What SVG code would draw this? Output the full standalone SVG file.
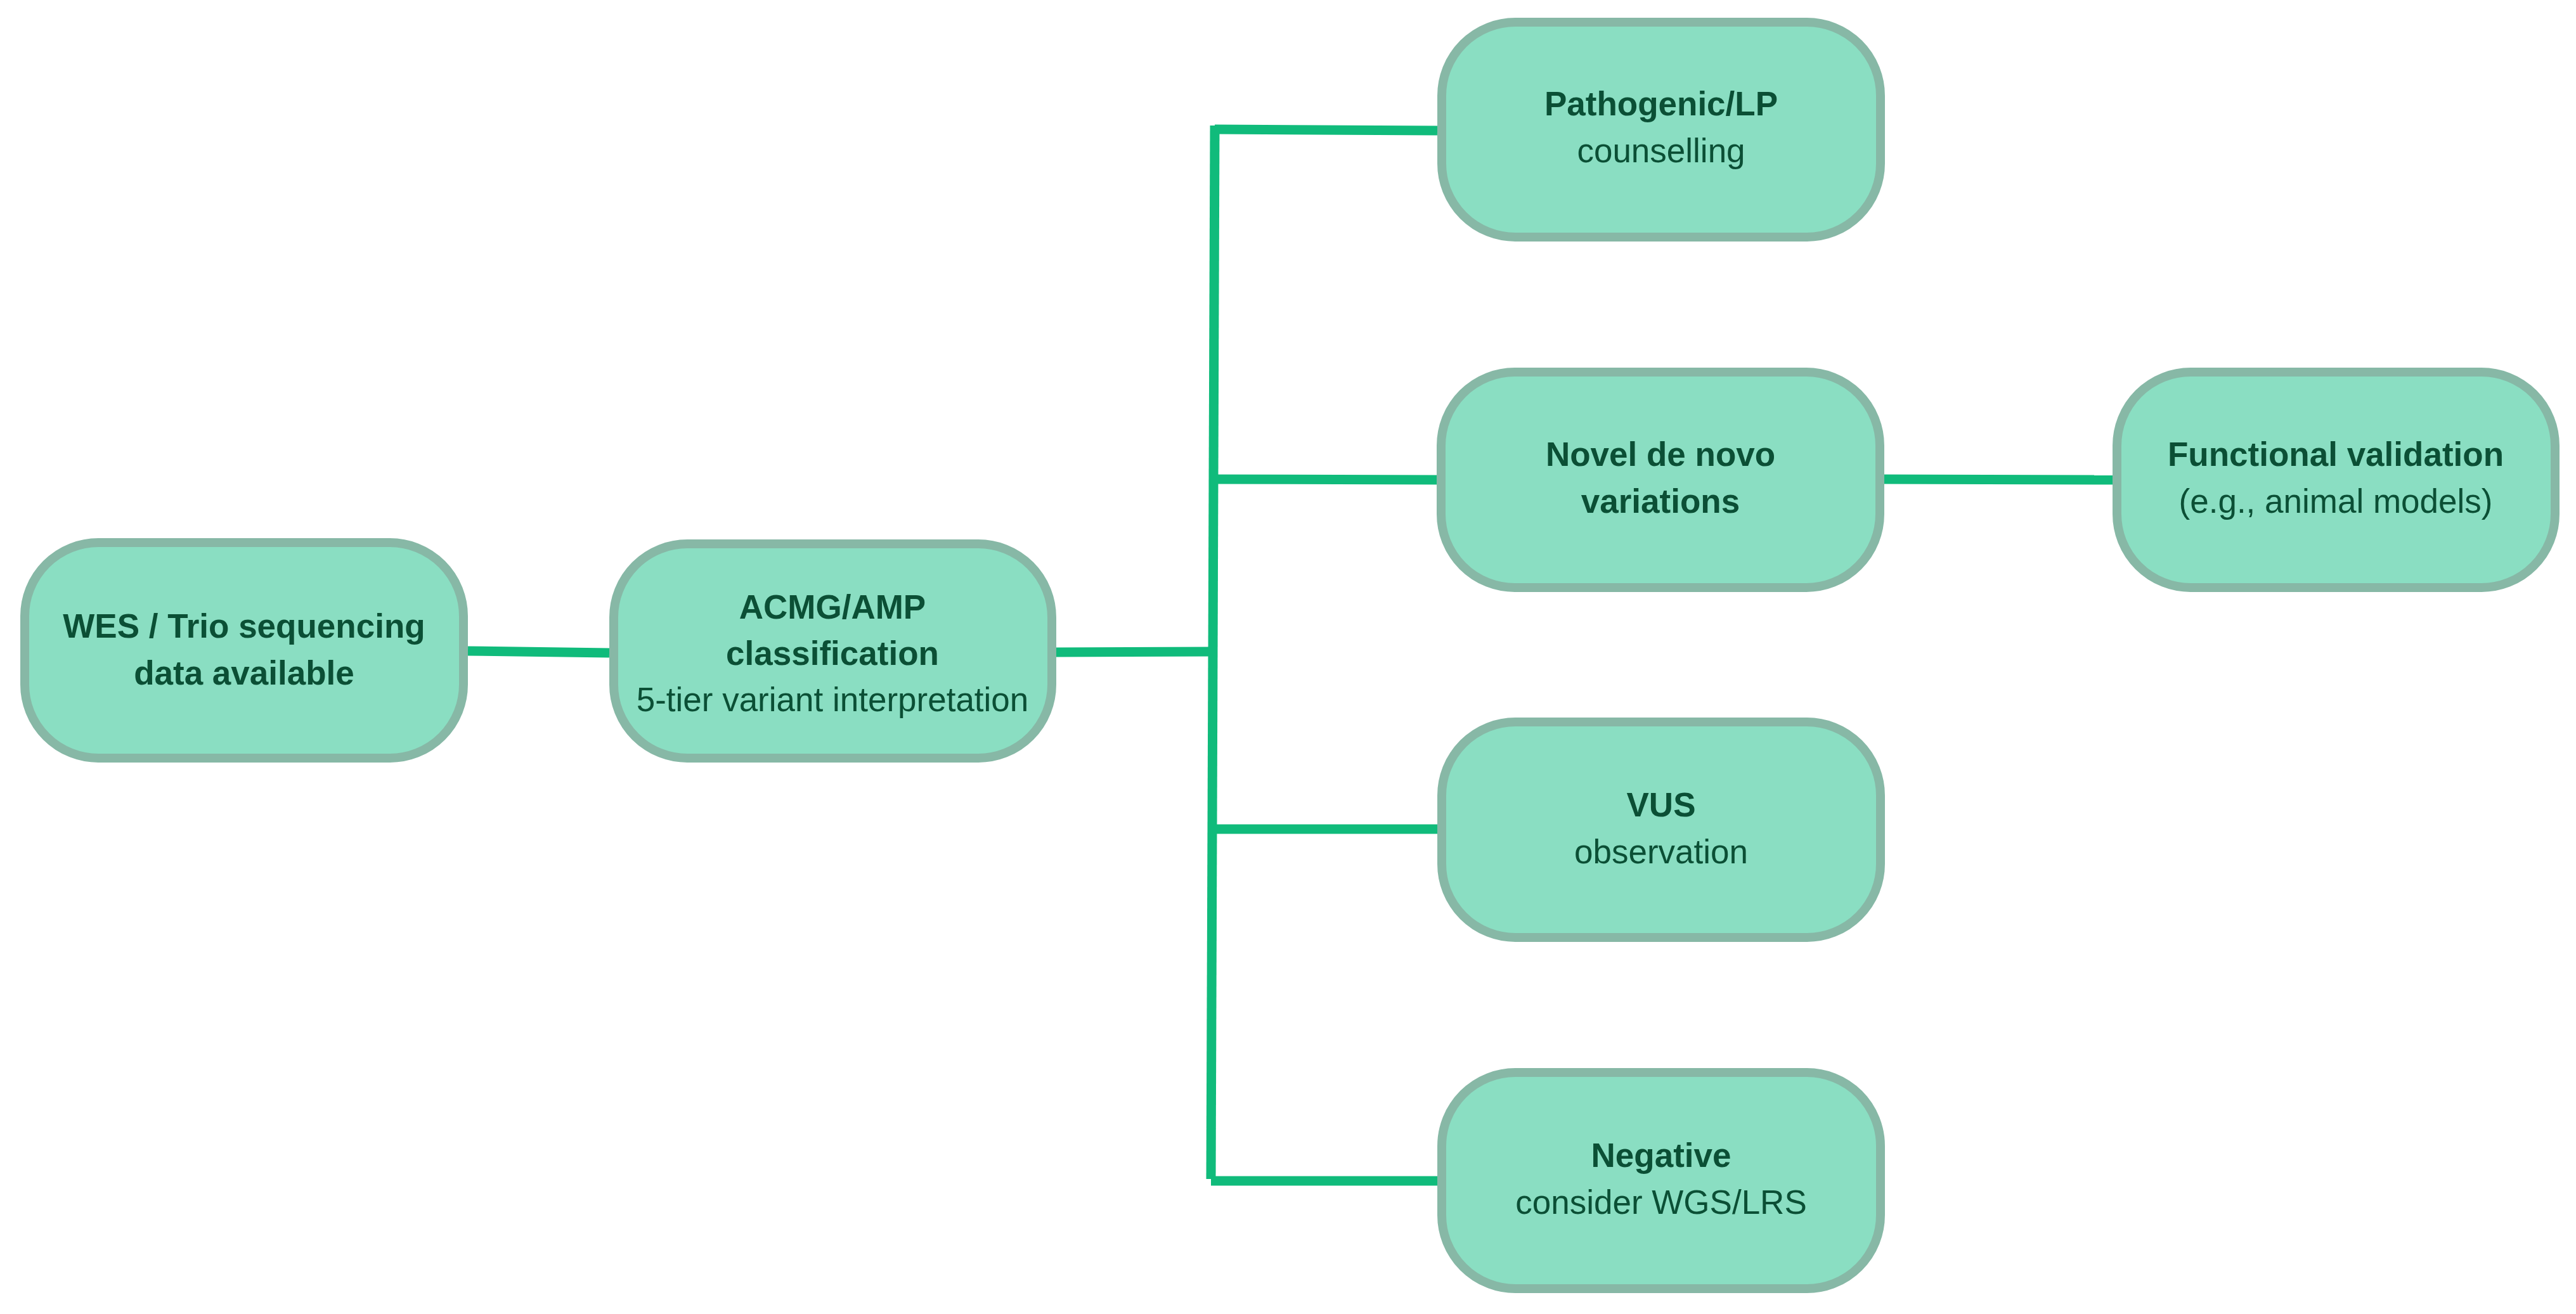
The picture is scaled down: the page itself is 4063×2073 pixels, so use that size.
<svg xmlns="http://www.w3.org/2000/svg" width="4063" height="2073" viewBox="0 0 4063 2073">
<style>
.node rect{fill:#8ADEC2;stroke:#87B8A6;stroke-width:14}
.node text{font-family:"Liberation Sans",Arial,sans-serif;font-size:53px;fill:#0B4F35;text-anchor:middle}
.b{font-weight:bold}
.conn line{stroke:#10BB7B;stroke-width:15;stroke-linecap:butt}
</style>
<rect width="4063" height="2073" fill="#FFFFFF"/>
<g id="connectors" class="conn">
<line x1="738" y1="1027" x2="961" y2="1030"/>
<line x1="1666" y1="1029" x2="1913" y2="1028"/>
<line x1="1916" y1="198" x2="1910" y2="1860"/>
<line x1="1916" y1="204" x2="2267" y2="206"/>
<line x1="1914" y1="756" x2="2266" y2="757"/>
<line x1="1912" y1="1308" x2="2267" y2="1308"/>
<line x1="1910" y1="1863" x2="2267" y2="1863"/>
<line x1="2972" y1="756" x2="3332" y2="757"/>
</g>
<g id="n-wes" class="node">
<rect x="39" y="856" width="692" height="340" rx="116"/>
<text x="385" y="1006" class="b">WES / Trio sequencing</text>
<text x="385" y="1080" class="b">data available</text>
</g>
<g id="n-acmg" class="node">
<rect x="968" y="858" width="691" height="338" rx="116"/>
<text x="1313" y="976" class="b">ACMG/AMP</text>
<text x="1313" y="1049" class="b">classification</text>
<text x="1313" y="1122">5-tier variant interpretation</text>
</g>
<g id="n-path" class="node">
<rect x="2274" y="35" width="692" height="339" rx="116"/>
<text x="2620" y="182" class="b">Pathogenic/LP</text>
<text x="2620" y="256">counselling</text>
</g>
<g id="n-novel" class="node">
<rect x="2273" y="587" width="692" height="340" rx="116"/>
<text x="2619" y="735" class="b">Novel de novo</text>
<text x="2619" y="809" class="b">variations</text>
</g>
<g id="n-func" class="node">
<rect x="3339" y="587" width="691" height="340" rx="116"/>
<text x="3684" y="735" class="b">Functional validation</text>
<text x="3684" y="809">(e.g., animal models)</text>
</g>
<g id="n-vus" class="node">
<rect x="2274" y="1139" width="692" height="340" rx="116"/>
<text x="2620" y="1288" class="b">VUS</text>
<text x="2620" y="1362">observation</text>
</g>
<g id="n-neg" class="node">
<rect x="2274" y="1692" width="692" height="341" rx="116"/>
<text x="2620" y="1841" class="b">Negative</text>
<text x="2620" y="1915">consider WGS/LRS</text>
</g>
</svg>
